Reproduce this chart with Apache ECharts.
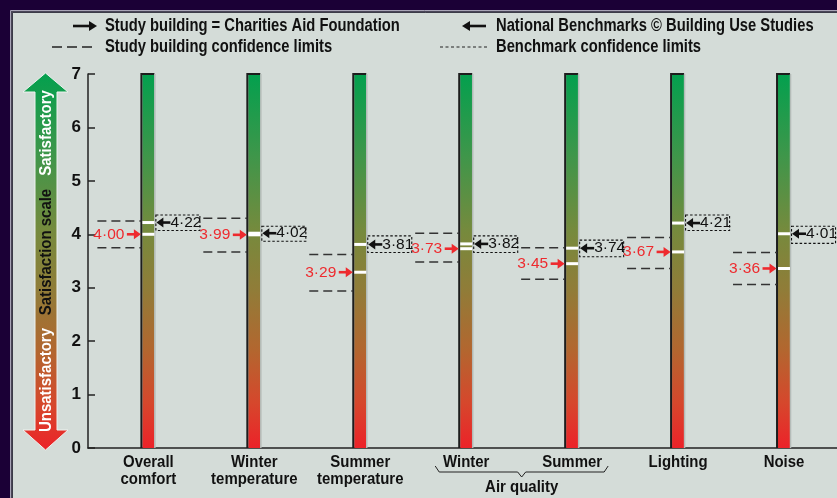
<!DOCTYPE html>
<html>
<head>
<meta charset="utf-8">
<style>
  html, body { margin: 0; padding: 0; background: #1b0036; }
  #chart { width: 837px; height: 498px; }
</style>
<script src="https://cdn.jsdelivr.net/npm/echarts@6.0.0/dist/echarts.min.js"></script>
</head>
<body>
<div id="chart"></div>
<script>
// satisfaction scores, study building vs national benchmark
const categories = ['Overall\ncomfort', 'Winter\ntemperature', 'Summer\ntemperature', 'Winter', 'Summer', 'Lighting', 'Noise'];
const groupLabel = 'Air quality';
const groupRange = [3, 4];
const studyScores = [4.00, 3.99, 3.29, 3.73, 3.45, 3.67, 3.36];
const studyLow = [3.75, 3.67, 2.94, 3.48, 3.16, 3.36, 3.06];
const studyHigh = [4.25, 4.30, 3.62, 4.02, 3.75, 3.94, 3.66];
const benchScores = [4.22, 4.02, 3.81, 3.82, 3.74, 4.21, 4.01];
const benchLow = [4.07, 3.87, 3.66, 3.66, 3.58, 4.07, 3.83];
const benchHigh = [4.36, 4.15, 3.97, 3.97, 3.89, 4.36, 4.15];
const scaleMin = 0;
const scaleMax = 7;

const FONT = "'Liberation Sans', Arial, sans-serif";
const fmt = v => v.toFixed(2).replace('.', '\u00b7');

function scaleGradient() {
  return new echarts.graphic.LinearGradient(0, 0, 0, 1, [
    { offset: 0, color: '#03a04e' },
    { offset: 0.22, color: '#3f964a' },
    { offset: 0.42, color: '#768a3d' },
    { offset: 0.58, color: '#917c38' },
    { offset: 0.74, color: '#b3662f' },
    { offset: 0.88, color: '#d6472c' },
    { offset: 1, color: '#ec2229' }
  ]);
}

function arrowShapes(tipX, y, dir, color) {
  // dir = 1 points right, -1 points left
  const headLen = 7, tail = 14;
  return [
    { type: 'line', shape: { x1: tipX - dir * tail, y1: y, x2: tipX - dir * (headLen - 1), y2: y },
      style: { stroke: color, lineWidth: 2.6 } },
    { type: 'polygon', shape: { points: [[tipX, y], [tipX - dir * headLen, y - 5], [tipX - dir * headLen, y + 5]] },
      style: { fill: color } }
  ];
}

function renderBar(params, api) {
  const i = api.value(0);
  const top = api.coord([i, scaleMax]);
  const bottom = api.coord([i, scaleMin]);
  const cx = top[0];
  const half = 6;
  const yOf = v => api.coord([i, v])[1];
  const children = [];

  children.push({ type: 'rect', shape: { x: cx - half, y: top[1], width: half * 2, height: bottom[1] - top[1] },
    style: { fill: scaleGradient() } });
  children.push({ type: 'polyline', shape: { points: [[cx - half - 1, bottom[1]], [cx - half - 1, top[1]], [cx + half, top[1]]] },
    style: { stroke: '#1d1d1d', lineWidth: 2, fill: null } });
  children.push({ type: 'line', shape: { x1: cx + half + 0.5, y1: top[1], x2: cx + half + 0.5, y2: bottom[1] },
    style: { stroke: '#b4bcb8', lineWidth: 1.5 } });

  // white markers on the bar
  [studyScores[i], benchScores[i]].forEach(v => {
    children.push({ type: 'line', shape: { x1: cx - half, y1: yOf(v), x2: cx + half, y2: yOf(v) },
      style: { stroke: '#ffffff', lineWidth: 3 } });
  });

  // study confidence limits
  [studyLow[i], studyHigh[i]].forEach(v => {
    children.push({ type: 'line', shape: { x1: cx - half - 45, y1: yOf(v), x2: cx - half - 1, y2: yOf(v) },
      style: { stroke: '#333333', lineWidth: 1.5, lineDash: [9, 5] } });
  });

  // benchmark confidence box
  children.push({ type: 'rect',
    shape: { x: cx + half + 1.5, y: yOf(benchHigh[i]), width: 44, height: yOf(benchLow[i]) - yOf(benchHigh[i]) },
    style: { fill: null, stroke: '#111111', lineWidth: 1.1, lineDash: [2.5, 2] } });

  // study arrow + label
  const sy = yOf(studyScores[i]);
  children.push(...arrowShapes(cx - half - 1.5, sy, 1, '#ee2a2e'));
  children.push({ type: 'text', x: cx - 24, y: sy,
    style: { text: fmt(studyScores[i]), fill: '#ee2a2e', font: '15.5px ' + FONT, align: 'right', verticalAlign: 'middle' } });

  // benchmark arrow + label
  const by = yOf(benchScores[i]);
  children.push(...arrowShapes(cx + half + 2, by, -1, '#111111'));
  children.push({ type: 'text', x: cx + 22, y: by,
    style: { text: fmt(benchScores[i]), fill: '#111111', font: '15.5px ' + FONT, align: 'left', verticalAlign: 'middle' } });

  // category label
  children.push({ type: 'text', x: cx, y: bottom[1] + 6, scaleX: 0.88,
    style: { text: categories[i], fill: '#111111', font: 'bold 17px ' + FONT, align: 'center', verticalAlign: 'top', lineHeight: 17 } });

  return { type: 'group', children: children };
}

function renderGroup(params, api) {
  const a = api.coord([api.value(0), scaleMin]);
  const b = api.coord([api.value(1), scaleMin]);
  const y0 = a[1];
  const l = a[0] - 31, r = b[0] + 36, m = (l + r) / 2;
  return {
    type: 'group',
    children: [
      { type: 'polyline',
        shape: { points: [[l, y0 + 18], [l + 4, y0 + 24], [m - 4, y0 + 24], [m, y0 + 29], [m + 4, y0 + 24], [r - 4, y0 + 24], [r, y0 + 18]] },
        style: { stroke: '#222222', lineWidth: 1, fill: null } },
      { type: 'text', x: m, y: y0 + 39, scaleX: 0.88,
        style: { text: groupLabel, fill: '#111111', font: 'bold 17px ' + FONT, align: 'center', verticalAlign: 'middle' } }
    ]
  };
}

const arrowPts = [[45.5, 73], [68, 92], [57, 92], [57, 430], [68, 430], [45.5, 450], [23, 430], [35, 430], [35, 92], [23, 92]];

// narrow bold legend text (no narrow font installed, so squeeze horizontally)
function legendText(x, y, text) {
  return { type: 'text', x: x, y: y, scaleX: 0.82,
    style: { text: text, fill: '#111', font: 'bold 18px ' + FONT, verticalAlign: 'middle' } };
}

const chart = echarts.init(document.getElementById('chart'));
chart.setOption({
  backgroundColor: '#1b0036',
  animation: false,
  grid: { left: 88, right: 0, top: 74, bottom: 50 },
  xAxis: {
    type: 'value', min: -0.57, max: 6.5,
    axisLine: { show: true, lineStyle: { color: '#222222', width: 1.5 } },
    axisTick: { show: false }, axisLabel: { show: false }, splitLine: { show: false }
  },
  yAxis: {
    type: 'value', min: scaleMin, max: scaleMax, interval: 1,
    axisLine: { show: true, onZero: false, lineStyle: { color: '#222222', width: 1.5 } },
    axisTick: { show: true, inside: true, length: 7, lineStyle: { color: '#222222', width: 1.5 } },
    axisLabel: { color: '#111111', fontWeight: 'bold', fontSize: 17, fontFamily: FONT, margin: 7 },
    splitLine: { show: false }
  },
  graphic: [
    { type: 'rect', z: -10, shape: { x: 10.5, y: 10.5, width: 840, height: 500 }, style: { fill: '#4a4658', stroke: '#a8a4b6', lineWidth: 1 } },
    { type: 'rect', z: -9, shape: { x: 12.5, y: 12.5, width: 840, height: 500 }, style: { fill: '#d4dcd8', stroke: '#3c3c48', lineWidth: 1 } },
    // legend
    { type: 'line', shape: { x1: 73, y1: 26, x2: 91, y2: 26 }, style: { stroke: '#111', lineWidth: 2.6 } },
    { type: 'polygon', shape: { points: [[97, 26], [89, 21], [89, 31]] }, style: { fill: '#111' } },
    legendText(105, 26, 'Study building = Charities Aid Foundation'),
    { type: 'line', shape: { x1: 52, y1: 47, x2: 97, y2: 47 }, style: { stroke: '#222', lineWidth: 1.5, lineDash: [10, 5] } },
    legendText(105, 47, 'Study building confidence limits'),
    { type: 'line', shape: { x1: 468, y1: 26, x2: 486, y2: 26 }, style: { stroke: '#111', lineWidth: 2.6 } },
    { type: 'polygon', shape: { points: [[462, 26], [470, 21], [470, 31]] }, style: { fill: '#111' } },
    legendText(496, 26, 'National Benchmarks \u00a9 Building Use Studies'),
    { type: 'line', shape: { x1: 440, y1: 47, x2: 488, y2: 47 }, style: { stroke: '#222', lineWidth: 1.2, lineDash: [3, 2.5] } },
    legendText(496, 47, 'Benchmark confidence limits'),
    // satisfaction scale arrow
    { type: 'polygon', shape: { points: arrowPts }, style: { fill: scaleGradient(), stroke: '#eef2ef', lineWidth: 1 } },
    { type: 'text', x: 46, y: 133, rotation: Math.PI / 2, scaleX: 0.88, style: { text: 'Satisfactory', fill: '#ffffff', font: 'bold 17px ' + FONT, align: 'center', verticalAlign: 'middle' } },
    { type: 'text', x: 46, y: 252, rotation: Math.PI / 2, scaleX: 0.88, style: { text: 'Satisfaction scale', fill: '#111111', font: 'bold 17px ' + FONT, align: 'center', verticalAlign: 'middle' } },
    { type: 'text', x: 46, y: 380, rotation: Math.PI / 2, scaleX: 0.88, style: { text: 'Unsatisfactory', fill: '#ffffff', font: 'bold 17px ' + FONT, align: 'center', verticalAlign: 'middle' } }
  ],
  series: [
    { type: 'custom', clip: false, renderItem: renderBar, data: categories.map((c, i) => [i]) },
    { type: 'custom', clip: false, renderItem: renderGroup, data: [groupRange] }
  ]
});
window.addEventListener('resize', () => { chart.resize(); });
</script>
</body>
</html>
